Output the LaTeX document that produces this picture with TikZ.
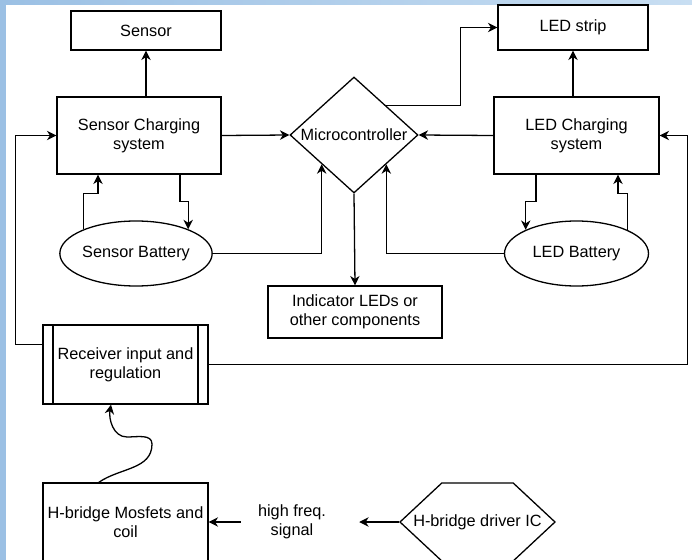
\documentclass[tikz,border=0pt]{standalone}
\usepackage{fontspec}
\setmainfont{Liberation Sans}
\usetikzlibrary{arrows.meta,shapes.geometric,shapes.symbols}
\definecolor{bandl}{RGB}{155,192,228}
\definecolor{bandt}{RGB}{200,222,242}
\tikzset{
	blk/.style={draw, line width=1.1pt, align=center, inner sep=0pt},
	bat/.style={blk, ellipse, minimum width=4.32cm, minimum height=1.95cm},
	proc/.style={blk, path picture={
		\draw[line width=1.1pt] ([xshift=0.3cm]path picture bounding box.north west) -- ([xshift=0.3cm]path picture bounding box.south west);
		\draw[line width=1.1pt] ([xshift=-0.3cm]path picture bounding box.north east) -- ([xshift=-0.3cm]path picture bounding box.south east);
	}},
	arr/.style={line width=1.1pt, -{Stealth[length=8pt,width=8pt,inset=2.5pt]}},
}

\begin{document}
\begin{tikzpicture}[x=0.03cm, y=-0.03cm, font=\fontsize{13.9}{16}\selectfont]
	\clip (0,0) rectangle (692,560);
	\fill[bandl] (0,0) rectangle (6,560);
	\shade[left color=bandl, right color=bandt] (0,0) rectangle (692,4);

	% blocks
	\node[blk, minimum width=4.5cm, minimum height=1.17cm] (sensor) at (146,30.5) {Sensor};
	\node[blk, minimum width=4.92cm, minimum height=2.31cm] (sencharge) at (139,135.5) {Sensor Charging\\system};
	\node[blk, diamond, aspect=1.1, minimum width=3.84cm, minimum height=3.48cm] (mcu) at (354,135) {Microcontroller};
	\node[blk, minimum width=4.5cm, minimum height=1.35cm] (ledstrip) at (573,27.5) {LED strip};
	\node[blk, minimum width=4.95cm, minimum height=2.31cm] (ledcharge) at (576.5,135.5) {LED Charging\\system};
	\node[bat] (senbat) at (136,253.5) {Sensor Battery};
	\node[bat] (ledbat) at (576.5,253.5) {LED Battery};
	\node[blk, minimum width=5.22cm, minimum height=1.56cm] (indicator) at (355,312) {Indicator LEDs or\\other components};
	\node[proc, minimum width=4.95cm, minimum height=2.37cm] (receiver) at (125.5,364.5) {Receiver input and\\regulation};
	\node[blk, minimum width=4.95cm, minimum height=2.34cm] (mosfet) at (125.5,522) {H-bridge Mosfets and\\coil};
	\node[align=center, inner sep=0pt, minimum width=3.06cm] (signal) at (292,522) {high freq.\\signal};
	\node[blk, signal, signal to=west and east, signal pointer angle=86, minimum width=4.65cm, minimum height=2.34cm] (driver) at (477.5,522) {\makebox[0pt]{H-bridge driver IC}};

	% connections
	\draw[arr] (sensor.south |- sencharge.north) -- (sensor.south);
	\draw[arr] (sencharge.east) -- (mcu.west);
	\draw[arr] (mcu.north east) -- ++(74,0) |- (ledstrip.west);
	\draw[arr] (ledstrip.south |- ledcharge.north) -- (ledstrip.south);
	\draw[arr] (ledcharge.west) -- (mcu.east);
	\draw[arr] (senbat.east) -| (mcu.south west);
	\draw[arr] (ledbat.west) -| (mcu.south east);
	\draw[arr] (mcu.south) -- (indicator.north);

	% battery charging
	\draw[arr] (senbat.155) -- ++(0,-36) -| ([xshift=-1.23cm]sencharge.south);
	\draw[arr] ([xshift=1.23cm]sencharge.south) -- ++(0,27) -| (senbat.25);
	\draw[arr] ([xshift=-1.215cm]ledcharge.south) -- ++(0,27) -| (ledbat.155);
	\draw[arr] (ledbat.25) -- ++(0,-36) -| ([xshift=1.245cm]ledcharge.south);

	% receiver feeds
	\draw[arr] ([yshift=0.6cm]receiver.west) -- ++(-27,0) |- (sencharge.west);
	\draw[arr] (receiver.east) -| ([xshift=0.84cm]ledcharge.east) -- (ledcharge.east);

	% wireless link and driver
	\draw[arr] ([xshift=-0.8cm]mosfet.north) to[out=35,in=-90] (152,444) to[out=90,in=0] (127,437) to[out=180,in=-100] ([xshift=-0.435cm]receiver.south);
	\draw[arr] (signal.west) -- (mosfet.east);
	\draw[arr, shorten >=0.48cm] (driver.west) -- (signal.east);
\end{tikzpicture}
\end{document}
